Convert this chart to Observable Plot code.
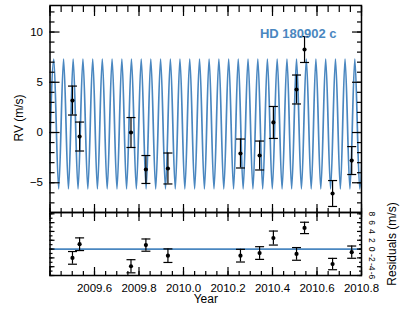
<!DOCTYPE html>
<html><head><meta charset="utf-8">
<script src="https://cdn.jsdelivr.net/npm/d3@7"></script>
<script src="https://cdn.jsdelivr.net/npm/@observablehq/plot@0.6"></script>
<style>
body{margin:0;background:#fff;}
#wrap{position:relative;width:415px;height:312px;}
#wrap svg{position:absolute;left:0;}
</style></head><body><div id="wrap"></div>
<script>
// ---- data ----
const obsYears  = [2009.501, 2009.533, 2009.764, 2009.831, 2009.930, 2010.256, 2010.342, 2010.404, 2010.508, 2010.544, 2010.670, 2010.756];
const rvValues  = [3.18, -0.40, 0.00, -3.68, -3.58, -2.09, -2.29, 1.00, 4.28, 8.26, -6.07, -2.79];
const rvErrors  = [1.44, 1.44, 1.49, 1.39, 1.54, 1.44, 1.44, 1.59, 1.44, 1.29, 1.29, 1.39];
const residuals = [-2.0, 1.1, -3.9, 0.9, -1.5, -1.5, -0.9, 2.5, -1.1, 4.8, -3.4, -0.7];
// model curve extrema
const peakYears = [2009.417, 2009.461, 2009.504, 2009.548, 2009.592, 2009.635, 2009.679, 2009.723, 2009.766, 2009.810, 2009.853, 2009.897, 2009.941, 2009.984, 2010.028, 2010.072, 2010.115, 2010.159, 2010.203, 2010.246, 2010.290, 2010.334, 2010.377, 2010.421, 2010.465, 2010.508, 2010.552, 2010.595, 2010.639, 2010.683, 2010.726, 2010.770, 2010.814];
const troughYears = [2009.395, 2009.439, 2009.483, 2009.526, 2009.570, 2009.613, 2009.657, 2009.701, 2009.744, 2009.788, 2009.832, 2009.875, 2009.919, 2009.963, 2010.006, 2010.050, 2010.094, 2010.137, 2010.181, 2010.225, 2010.268, 2010.312, 2010.356, 2010.399, 2010.443, 2010.486, 2010.530, 2010.574, 2010.617, 2010.661, 2010.705, 2010.748, 2010.792];
const peakRV = 7.3;
const troughRV = -5.6;
// ticks and labels
const yearMajor = [2009.4, 2009.6, 2009.8, 2010.0, 2010.2, 2010.4, 2010.6, 2010.8];
const yearLabeled = [2009.6, 2009.8, 2010.0, 2010.2, 2010.4, 2010.6, 2010.8];
const rvMajor = [-5, 0, 5, 10];
const residMajor = [-6, -4, -2, 0, 2, 4, 6, 8];
const titleText = "HD 180902 c";
const rvLabel = "RV (m/s)";
const residLabel = "Residuals (m/s)";
const xLabel = "Year";

// ---- derived tables ----
const obs = obsYears.map((t, i) => ({year: t, rv: rvValues[i], err: rvErrors[i], res: residuals[i]}));
const curve = [...peakYears.map(t => ({year: t, rv: peakRV})), ...troughYears.map(t => ({year: t, rv: troughRV}))]
  .sort((a, b) => a.year - b.year);
const yearMinor = d3.range(0, 29).map(i => 2009.4 + i * 0.05);
const rvMinor = d3.range(-7, 13);
const residMinor = d3.range(-6, 9);

const blue = "#4a87c0";
const font = "'Liberation Sans', Arial, Helvetica, sans-serif";
const cap = {draw(ctx, size) { const w = Math.sqrt(size / Math.PI); ctx.moveTo(-w, 0); ctx.lineTo(w, 0); }};
const W = 415, ML = 49.5, MR = 54;
const xDomain = [2009.4, 2010.8];

function tickSet(axis, anchor, ticks, size) {
  return axis({anchor, ticks, tickSize: -size, fill: "none", label: null, strokeWidth: 1.2});
}
function errorMarks(valueKey) {
  return [
    Plot.ruleX(obs, {x: "year", y1: d => d[valueKey] - d.err, y2: d => d[valueKey] + d.err, stroke: "black", strokeWidth: 1.2}),
    Plot.dot(obs, {x: "year", y: d => d[valueKey] + d.err, symbol: cap, r: 4.5, stroke: "black", strokeWidth: 1.2, fill: "none"}),
    Plot.dot(obs, {x: "year", y: d => d[valueKey] - d.err, symbol: cap, r: 4.5, stroke: "black", strokeWidth: 1.2, fill: "none"}),
    Plot.dot(obs, {x: "year", y: valueKey, r: 2.1, fill: "black", stroke: "none"})
  ];
}

const topPanel = Plot.plot({
  width: W, height: 213,
  marginLeft: ML, marginRight: MR, marginTop: 5, marginBottom: 1,
  style: {background: "transparent", overflow: "visible", fontFamily: font, fontSize: "11.5px", color: "black"},
  x: {domain: xDomain},
  y: {domain: [-7.96, 12.64]},
  marks: [
    Plot.line(curve, {x: "year", y: "rv", stroke: blue, strokeWidth: 1.7, curve: "monotone-x", clip: true}),
    ...errorMarks("rv"),
    Plot.text([titleText], {frameAnchor: "top-right", dx: -25, dy: 23, textAnchor: "end", fill: blue, fontWeight: "bold", fontSize: 13}),
    Plot.text([rvLabel], {frameAnchor: "left", dx: -31, dy: 9, rotate: -90, textAnchor: "middle", fontSize: 12}),
    tickSet(Plot.axisX, "bottom", yearMinor, 4), tickSet(Plot.axisX, "bottom", yearMajor, 8),
    tickSet(Plot.axisX, "top", yearMinor, 6), tickSet(Plot.axisX, "top", yearMajor, 10),
    tickSet(Plot.axisY, "left", rvMinor, 5), tickSet(Plot.axisY, "left", rvMajor, 10),
    tickSet(Plot.axisY, "right", rvMinor, 5), tickSet(Plot.axisY, "right", rvMajor, 10),
    Plot.axisY({anchor: "left", ticks: rvMajor, tickSize: 0, tickPadding: 7, stroke: "none", label: null}),
    Plot.frame({stroke: "black", strokeWidth: 1.5})
  ]
});

const bottomPanel = Plot.plot({
  width: W, height: 112,
  marginLeft: ML, marginRight: MR, marginTop: 12, marginBottom: 37,
  style: {background: "transparent", overflow: "visible", fontFamily: font, fontSize: "11.5px", color: "black"},
  x: {domain: xDomain},
  y: {domain: [-6, 8.3]},
  marks: [
    Plot.ruleY([0], {stroke: blue, strokeWidth: 1.7}),
    ...errorMarks("res"),
    tickSet(Plot.axisX, "bottom", yearMinor, 4), tickSet(Plot.axisX, "bottom", yearMajor, 8),
    tickSet(Plot.axisX, "top", yearMinor, 4), tickSet(Plot.axisX, "top", yearMajor, 8),
    tickSet(Plot.axisY, "left", residMinor, 3), tickSet(Plot.axisY, "left", residMajor, 5),
    tickSet(Plot.axisY, "right", residMinor, 3), tickSet(Plot.axisY, "right", residMajor, 5),
    Plot.axisX({anchor: "bottom", ticks: yearLabeled, tickSize: 0, tickPadding: 8, stroke: "none", label: null, tickFormat: d3.format(".1f")}),
    Plot.text(residMajor, {y: d => d, text: d => String(d), frameAnchor: "right", dx: 10, rotate: 90, textAnchor: "middle", fontSize: 8.5}),
    Plot.text([residLabel], {frameAnchor: "right", dx: 31, rotate: -90, textAnchor: "middle", fontSize: 12}),
    Plot.text([xLabel], {frameAnchor: "bottom", dy: 27, fontSize: 12}),
    Plot.frame({stroke: "black", strokeWidth: 1.5})
  ]
});

const wrap = document.getElementById("wrap");
bottomPanel.style.top = "200px";
topPanel.style.top = "0px";
wrap.appendChild(bottomPanel);
wrap.appendChild(topPanel);
</script>
</body></html>
